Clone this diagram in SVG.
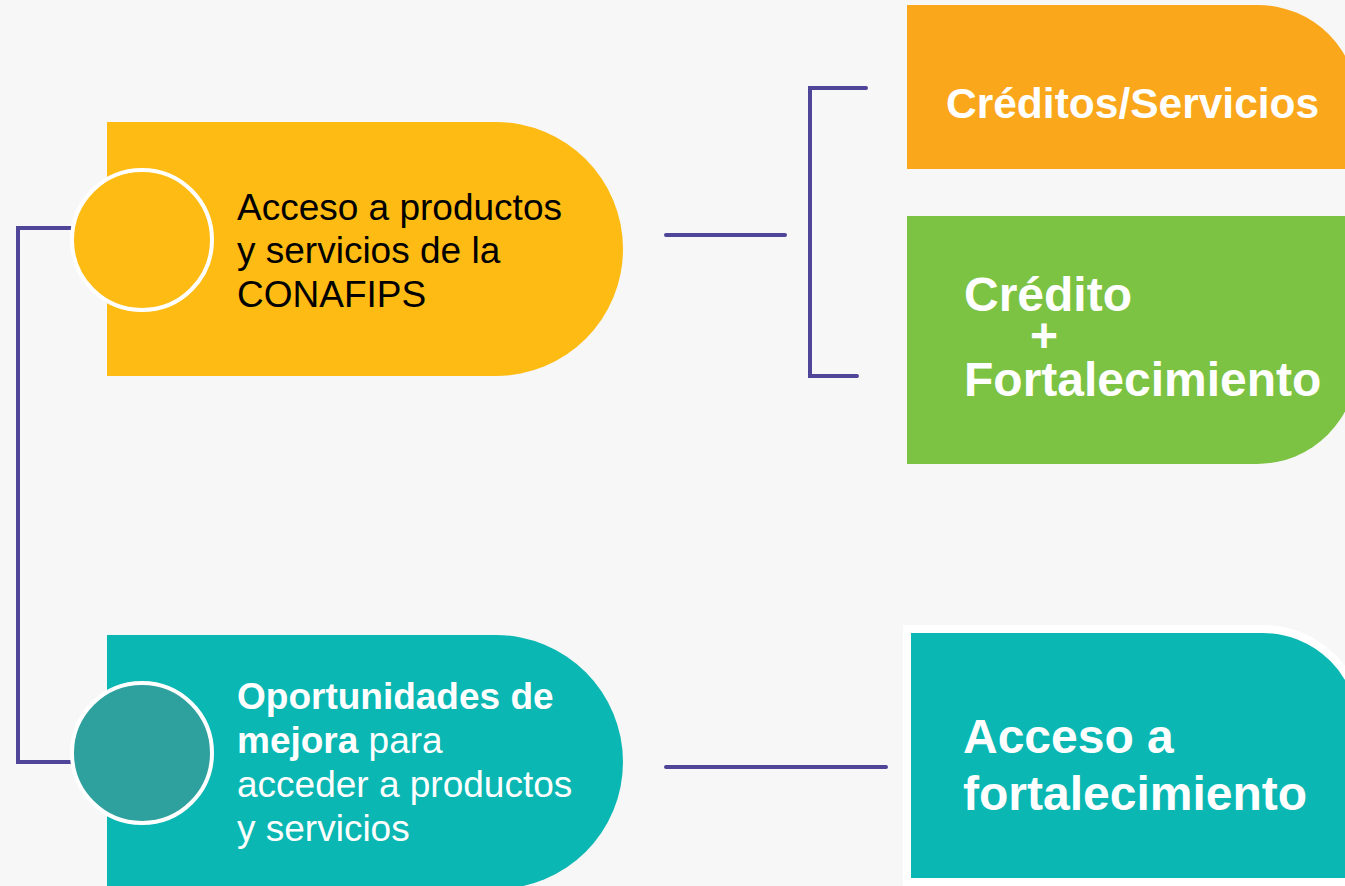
<svg xmlns="http://www.w3.org/2000/svg" width="1345" height="886" viewBox="0 0 1345 886">
<style>
.conn{fill:none;stroke:#4F4699;stroke-width:4;stroke-linecap:round;stroke-linejoin:miter}
.t{font-family:"Liberation Sans",Arial,sans-serif}
.lbl{font-size:37px;fill:#000}
.wl{font-size:37px;fill:#fff}
.big{font-size:48px;font-weight:bold;fill:#fff}
</style>
<rect width="1345" height="886" fill="#F7F7F7"/>
<g id="connectors">
<path class="conn" d="M72,228 H18 V762 H72"/>
<path class="conn" d="M666,235 H785"/>
<path class="conn" d="M866,88 H810 V376 H857"/>
<path class="conn" d="M666,767 H886"/>
</g>
<g id="node-acceso">
<path d="M107,122 H496 A127,127 0 0 1 623,249 A127,127 0 0 1 496,376 H107 Z" fill="#FDBB13"/>
<circle cx="142" cy="240" r="70" fill="#FDBB13" stroke="#fff" stroke-width="4"/>
<text class="t lbl" x="237"><tspan x="237" y="220">Acceso a productos</tspan><tspan x="237" y="263">y servicios de la</tspan><tspan x="237" y="307">CONAFIPS</tspan></text>
</g>
<g id="node-oportunidades">
<path d="M107,635 H496 A127,127 0 0 1 623,762 A127,127 0 0 1 496,889 H107 Z" fill="#0AB7B3"/>
<circle cx="142" cy="753" r="70" fill="#2EA19F" stroke="#fff" stroke-width="4"/>
<text class="t wl" x="237"><tspan x="237" y="709" font-weight="bold">Oportunidades de</tspan><tspan x="237" y="753"><tspan font-weight="bold">mejora</tspan> para</tspan><tspan x="237" y="797">acceder a productos</tspan><tspan x="237" y="841">y servicios</tspan></text>
</g>
<g id="node-creditos-servicios">
<path d="M907,5 H1258 A100,100 0 0 1 1358,105 V169 H907 Z" fill="#FAA71C"/>
<text class="t" x="946" y="118" font-size="42.5" font-weight="bold" fill="#fff">Créditos/Servicios</text>
</g>
<g id="node-credito-fortalecimiento">
<path d="M907,216 H1357 V364 A100,100 0 0 1 1257,464 H907 Z" fill="#7DC343"/>
<text class="t big"><tspan x="964" y="311">Crédito</tspan><tspan x="1030" y="352">+</tspan><tspan x="964" y="396">Fortalecimiento</tspan></text>
</g>
<g id="node-acceso-fortalecimiento">
<path d="M907,629 H1263 A99,99 0 0 1 1362,728 V882 H907 Z" fill="#0AB7B3" stroke="#fff" stroke-width="8"/>
<text class="t big"><tspan x="963" y="753">Acceso a</tspan><tspan x="963" y="810">fortalecimiento</tspan></text>
</g>
</svg>
